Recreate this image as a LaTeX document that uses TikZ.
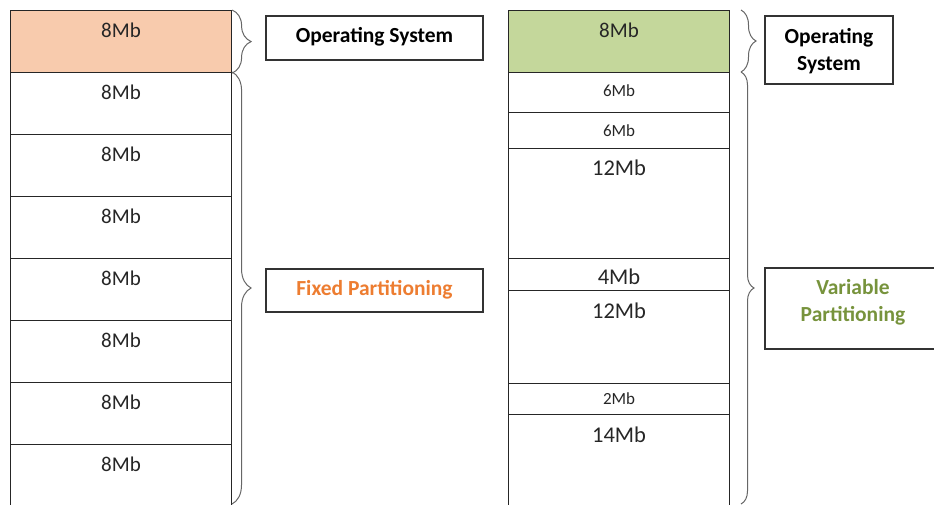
\documentclass[tikz,border=0pt]{standalone}
\usepackage{fontspec}
\setmainfont{Carlito}
\usetikzlibrary{decorations.pathreplacing}

\definecolor{osorange}{RGB}{248,203,173}
\definecolor{osgreen}{RGB}{196,215,155}
\definecolor{fixtext}{RGB}{237,125,49}
\definecolor{vartext}{RGB}{119,147,60}

\tikzset{
  cell/.style={draw=black!85, line width=1.1pt, minimum width=221pt, anchor=north west, inner sep=0pt},
  mid/.style={font=\fontsize{21}{22}\selectfont, text=black!85},
  small/.style={font=\fontsize{17}{18}\selectfont, text=black!85},
  big/.style={font=\fontsize{22.5}{24}\selectfont, text=black!85},
  tag/.style={draw=black!80, line width=1.1pt, inner sep=0pt},
  tagtext/.style={anchor=center, align=center, font=\bfseries\fontsize{21.5}{27}\selectfont},
  brc/.style={decorate, decoration={brace, amplitude=#1}, draw=black!60, line width=1pt},
}

\begin{document}
\begin{tikzpicture}[x=1pt, y=-1pt]
\useasboundingbox (0,0) rectangle (934,504);
\clip (0,0) rectangle (934,504);

% fixed partitions
\node[cell, fill=osorange, minimum height=62pt, label={[mid, anchor=center, yshift=-20pt]north:8Mb}] (L0) at (10,10) {};
\foreach \i in {1,...,7}
  \node[cell, minimum height=62pt, label={[mid, anchor=center, yshift=-20pt]north:8Mb}] (L\i) at (10,10+62*\i) {};

% variable partitions
\node[cell, fill=osgreen, minimum height=62pt, label={[mid, anchor=center, yshift=-20pt]north:8Mb}] (R0) at (508,10) {};
\node[cell, minimum height=40pt, label={[small, anchor=center, yshift=-19pt]north:6Mb}] (R1) at (508,72) {};
\node[cell, minimum height=36pt, label={[small, anchor=center, yshift=-19pt]north:6Mb}] (R2) at (508,112) {};
\node[cell, minimum height=110pt, label={[big, anchor=center, yshift=-20pt]north:12Mb}] (R3) at (508,148) {};
\node[cell, minimum height=32pt, label={[big, anchor=center, yshift=-19pt]north:4Mb}] (R4) at (508,258) {};
\node[cell, minimum height=93pt, label={[big, anchor=center, yshift=-21pt]north:12Mb}] (R5) at (508,290) {};
\node[cell, minimum height=31pt, label={[small, anchor=center, yshift=-16pt]north:2Mb}] (R6) at (508,383) {};
\node[cell, minimum height=110pt, label={[big, anchor=center, yshift=-21pt]north:14Mb}] (R7) at (508,414) {};

% labels
\node[tag, minimum width=217pt, minimum height=44pt, label={[tagtext, yshift=1pt]center:Operating System}] (osfix) at (374.5,38) {};
\node[tag, minimum width=217pt, minimum height=43pt, label={[tagtext, text=fixtext, yshift=1pt]center:Fixed Partitioning}] (fixed) at (374.5,290.5) {};
\node[tag, minimum width=128pt, minimum height=68pt, label={[tagtext, yshift=-1pt]center:Operating\\System}] (osvar) at (829,50) {};
\node[tag, minimum width=176pt, minimum height=81pt, label={[tagtext, text=vartext, yshift=6pt]center:Variable\\Partitioning}] (variable) at (853,308.5) {};

% braces
\coordinate (fixend) at (232,504);
\coordinate (varend) at (741,504);
\draw[brc=19pt] (L0.north east) -- (L0.south east);
\draw[brc=19pt] (L1.north east) -- (fixend);
\draw[brc=15pt] (741,10) -- (741,72);
\draw[brc=13pt] (741,72) -- (varend);
\end{tikzpicture}
\end{document}
